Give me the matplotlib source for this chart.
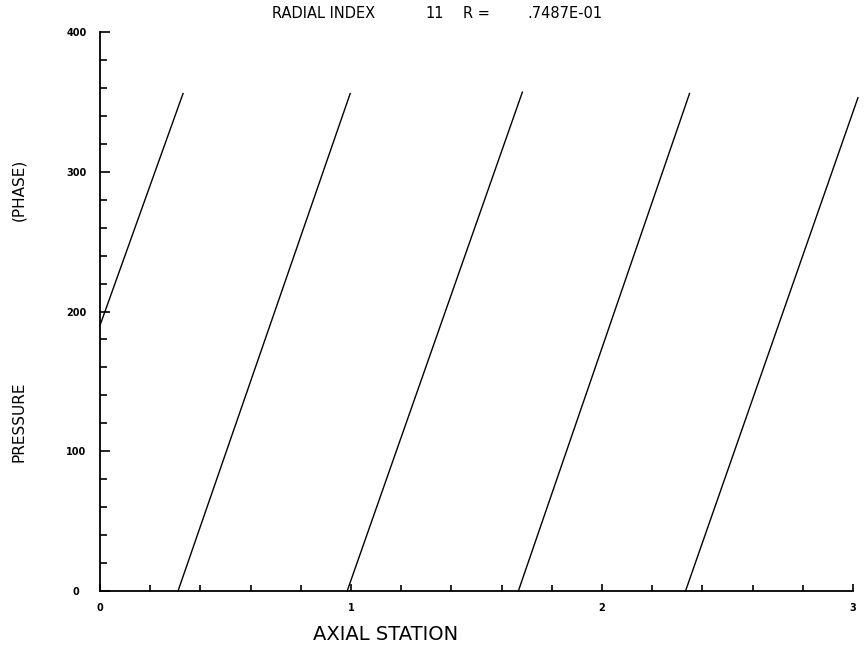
import numpy as np
import matplotlib
matplotlib.use("Agg")
import matplotlib.pyplot as plt
from matplotlib.ticker import MultipleLocator

# Data: wrapped phase (degrees) along the axial station, one segment per wrap
nan = np.nan
station = [0.0, 0.331, nan, 0.311, 0.997, nan, 0.985, 1.683, nan,
           1.667, 2.349, nan, 2.333, 3.02]
phase = [190, 356, nan, 0, 356, nan, 0, 357, nan,
         0, 356, nan, 0, 353]

x_ticks = [0, 1, 2, 3]
x_ticklabels = ['0', '1', '2', '3']
y_ticks = [0, 100, 200, 300, 400]
y_ticklabels = ['0', '100', '200', '300', '400']

fig = plt.figure(figsize=(8.64, 6.56), dpi=100)
ax = fig.add_axes([0.1157, 0.0991, 0.8715, 0.8521])

ax.plot(station, phase, color='black', linewidth=1.0, clip_on=False)

ax.set_xlim(0, 3)
ax.set_ylim(0, 400)

ax.spines['top'].set_visible(False)
ax.spines['right'].set_visible(False)
ax.spines['left'].set_linewidth(1.3)
ax.spines['bottom'].set_linewidth(1.3)

ax.set_xticks(x_ticks)
ax.set_xticklabels(x_ticklabels)
ax.set_yticks(y_ticks)
ax.set_yticklabels(y_ticklabels)
ax.xaxis.set_minor_locator(MultipleLocator(0.2))
ax.yaxis.set_minor_locator(MultipleLocator(20))

ax.tick_params(axis='x', which='both', direction='in', width=1.2)
ax.tick_params(axis='x', which='major', length=5, pad=9)
ax.tick_params(axis='x', which='minor', length=4.5)
ax.tick_params(axis='y', which='both', direction='in', width=1.2)
ax.tick_params(axis='y', which='major', length=7, pad=17)
ax.tick_params(axis='y', which='minor', length=5)

for lab in ax.get_xticklabels() + ax.get_yticklabels():
    lab.set_fontsize(7)
    lab.set_fontweight('bold')
for lab in ax.get_yticklabels():
    lab.set_ha('center')

# Title pieces, spaced like the plotter output
ty = 1 - 14 / 656
fig.text(272 / 864, ty, 'RADIAL INDEX', fontsize=10.5, va='center', ha='left')
fig.text(425 / 864, ty, '11', fontsize=10.5, va='center', ha='left')
fig.text(463 / 864, ty, 'R =', fontsize=10.5, va='center', ha='left')
fig.text(527 / 864, ty, '.7487E-01', fontsize=10.5, va='center', ha='left')

fig.text(386 / 864, 1 - 634 / 656, 'AXIAL STATION', fontsize=14, va='center', ha='center')
fig.text(19 / 864, 1 - 422 / 656, 'PRESSURE', fontsize=11, rotation=90, va='center', ha='center')
fig.text(19 / 864, 1 - 190 / 656, '(PHASE)', fontsize=11, rotation=90, va='center', ha='center')

fig.savefig('out.png', dpi=100)
